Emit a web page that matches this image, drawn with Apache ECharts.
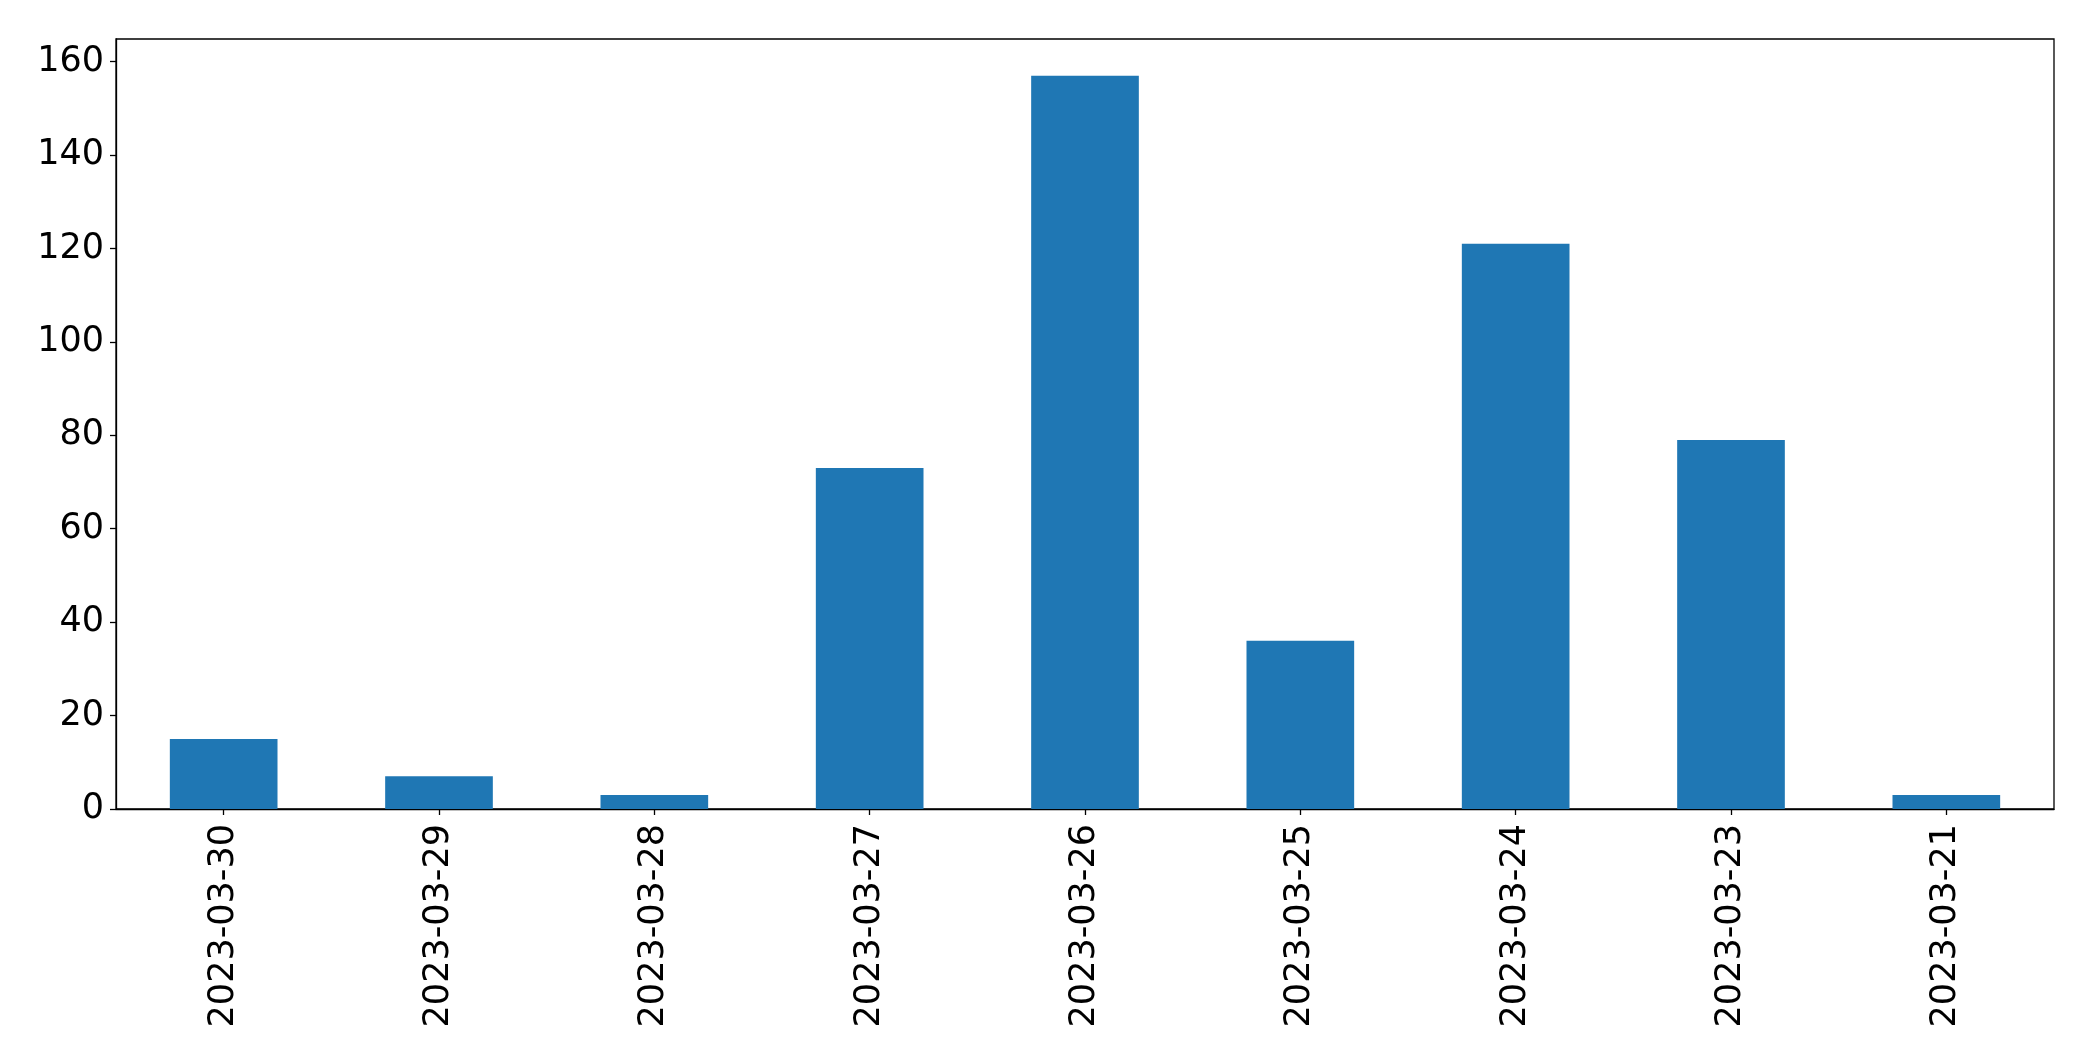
<!DOCTYPE html>
<html>
<head>
<meta charset="utf-8">
<script src="https://cdn.jsdelivr.net/npm/echarts@6/dist/echarts.min.js"></script>
<style>
html,body{margin:0;padding:0;background:#fff;}
#chart{width:2093px;height:1061px;}
</style>
</head>
<body>
<div id="chart"></div>
<script>
const categories = ["2023-03-30","2023-03-29","2023-03-28","2023-03-27","2023-03-26","2023-03-25","2023-03-24","2023-03-23","2023-03-21"];
const values = [15, 7, 3, 73, 157, 36, 121, 79, 3];
const yTicks = [0, 20, 40, 60, 80, 100, 120, 140, 160];
const yMax = 164.85;

const chart = echarts.init(document.getElementById('chart'), null, {renderer: 'canvas'});
const font = '"DejaVu Sans", sans-serif';
chart.setOption({
  animation: false,
  backgroundColor: '#ffffff',
  grid: {
    left: 116, right: 39, top: 39, bottom: 252,
    show: true, borderColor: '#000000', borderWidth: 1.3, backgroundColor: 'transparent'
  },
  xAxis: {
    type: 'category',
    data: categories,
    boundaryGap: true,
    axisLine: {show: true, lineStyle: {color: '#000', width: 1.3}},
    axisTick: {show: true, alignWithLabel: true, length: 6, lineStyle: {color: '#000', width: 1.3}},
    axisLabel: {rotate: 90, fontSize: 35, fontFamily: font, color: '#000', margin: 15, interval: 0},
    splitLine: {show: false}
  },
  yAxis: {
    type: 'value',
    min: 0,
    max: yMax,
    axisLine: {show: true, lineStyle: {color: '#000', width: 1.3}},
    axisTick: {show: true, length: 6, lineStyle: {color: '#000', width: 1.3}, customValues: yTicks},
    axisLabel: {fontSize: 35, fontFamily: font, color: '#000', margin: 12, customValues: yTicks},
    splitLine: {show: false}
  },
  series: [{
    type: 'bar',
    data: values,
    barWidth: '50%',
    itemStyle: {color: '#1f77b4'}
  }]
});
</script>
</body>
</html>
